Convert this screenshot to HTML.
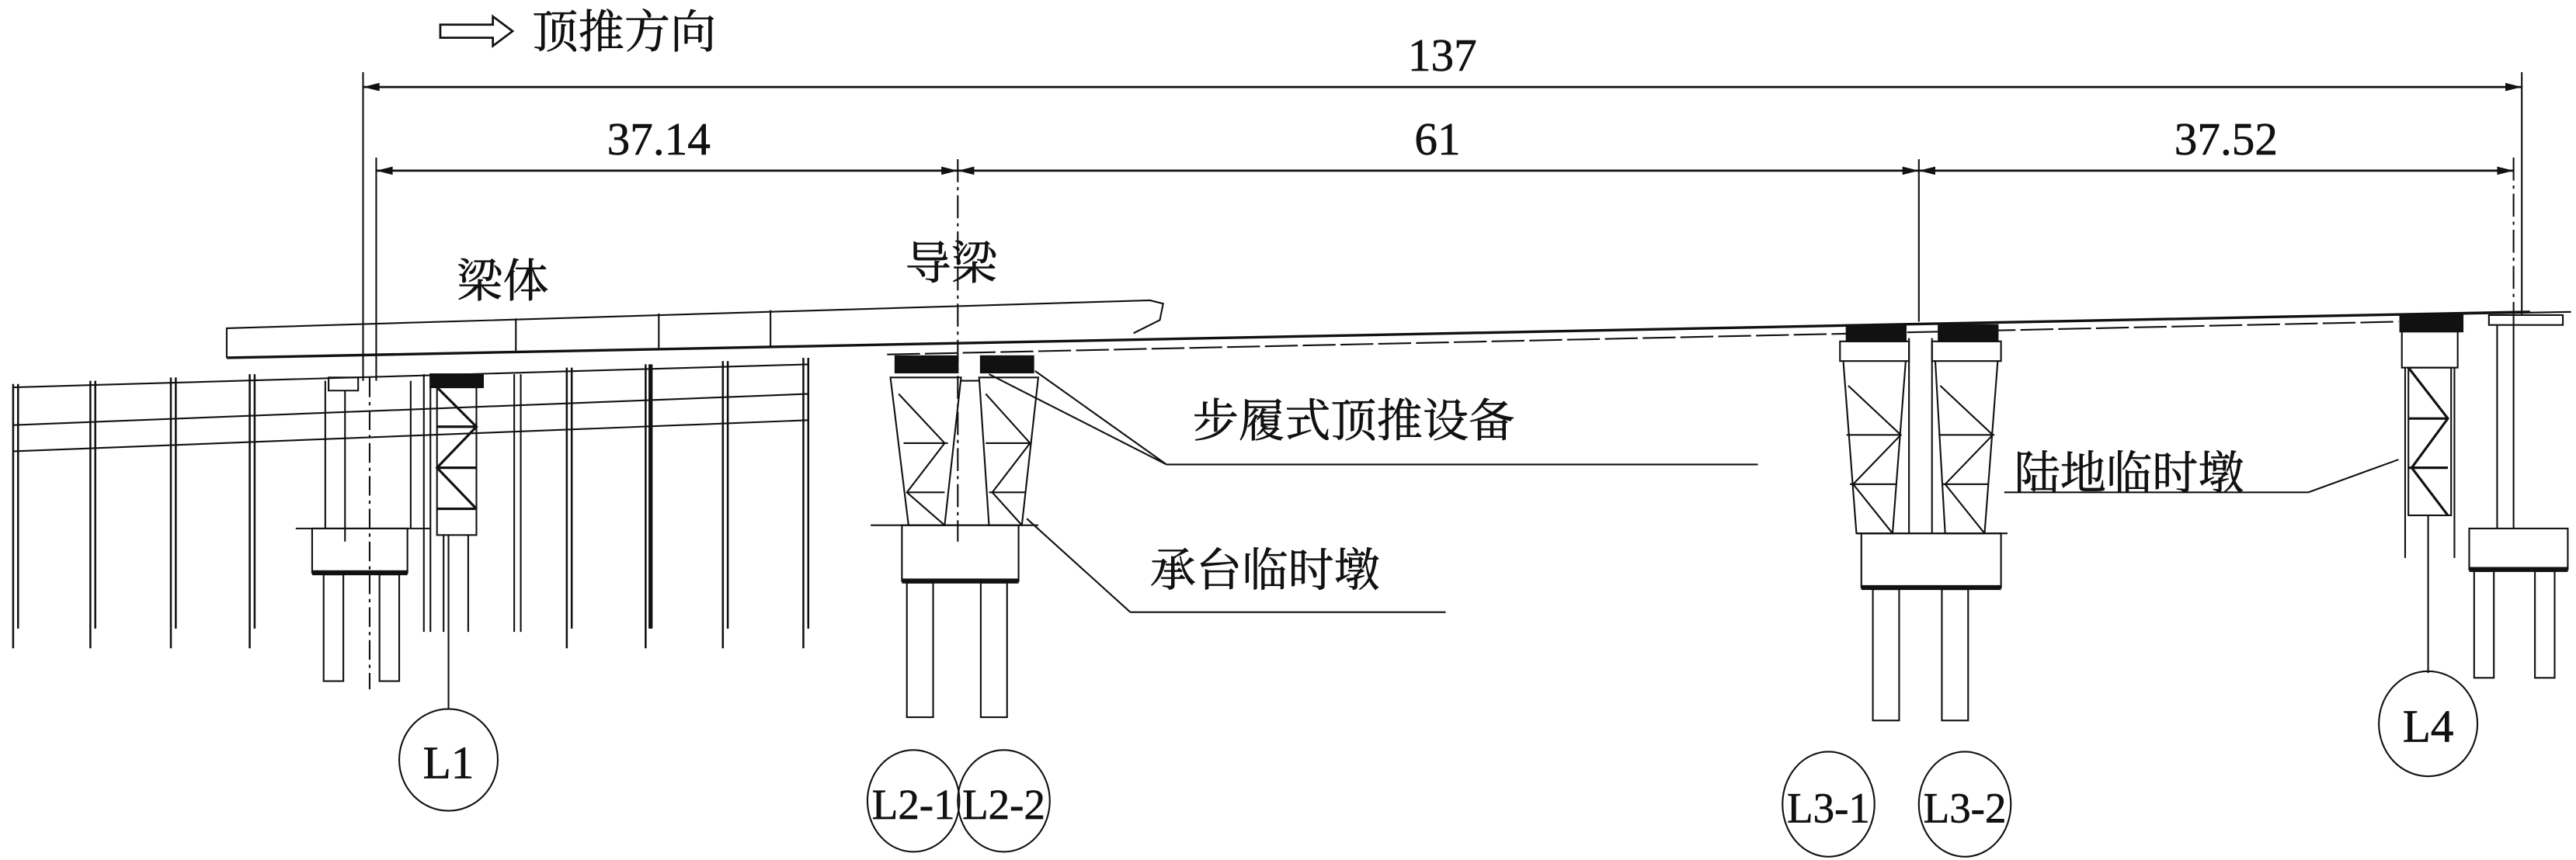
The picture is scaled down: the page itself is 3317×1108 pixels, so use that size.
<!DOCTYPE html>
<html><head><meta charset="utf-8"><style>
html,body{margin:0;padding:0;background:#fff;}
svg{display:block;}
text{font-family:"Liberation Serif","Noto Serif CJK SC",serif;fill:#111;}
</style></head><body>
<svg width="3317" height="1108" viewBox="0 0 1568 524" preserveAspectRatio="none" xmlns="http://www.w3.org/2000/svg">
<g stroke="#111" fill="none" stroke-width="1">
<path d="M268 15 H300 V10 L312 19 L300 28 V23 H268 Z" stroke-width="1.3"/>
<line x1="221" y1="53" x2="1535" y2="53" stroke-width="1.3"/>
<line x1="221" y1="44" x2="221" y2="232"/>
<line x1="1535" y1="44" x2="1535" y2="192"/>
<line x1="229" y1="104" x2="1530" y2="104" stroke-width="1.3"/>
<line x1="229" y1="96" x2="229" y2="232"/>
<line x1="583" y1="97" x2="583" y2="330" stroke-dasharray="14,3,2,3"/>
<line x1="1168" y1="97" x2="1168" y2="196"/>
<line x1="1530" y1="96" x2="1530" y2="200" stroke-dasharray="14,3,2,3"/>
<g fill="#111" stroke="none">
<path d="M221 53 l10 -2.5 v5z"/><path d="M1535 53 l-10 -2.5 v5z"/>
<path d="M229 104 l10 -2.5 v5z"/><path d="M583 104 l-10 -2.5 v5z"/><path d="M583 104 l10 -2.5 v5z"/>
<path d="M1168 104 l-10 -2.5 v5z"/><path d="M1168 104 l10 -2.5 v5z"/><path d="M1530 104 l-10 -2.5 v5z"/>
</g>
<path d="M138 218 V200 L700 183 L708 185 L706 195 L690 203"/>
<line x1="138" y1="218" x2="1540" y2="190" stroke-width="1.6"/>
<line x1="540" y1="216" x2="1460" y2="196" stroke-dasharray="20,3"/>
<line x1="314" y1="194" x2="314" y2="214"/><line x1="401" y1="191" x2="401" y2="212"/><line x1="469" y1="189" x2="469" y2="211"/>
<line x1="1460" y1="192" x2="1565" y2="190"/>
<g stroke-width="1.2">
<line x1="8" y1="234" x2="8" y2="395"/><line x1="11" y1="234" x2="11" y2="383"/>
<line x1="55" y1="232" x2="55" y2="395"/><line x1="58" y1="232" x2="58" y2="383"/>
<line x1="104" y1="230" x2="104" y2="395"/><line x1="107" y1="230" x2="107" y2="383"/>
<line x1="152" y1="228" x2="152" y2="395"/><line x1="155" y1="228" x2="155" y2="383"/>
<line x1="345" y1="224" x2="345" y2="395"/><line x1="348" y1="224" x2="348" y2="383"/>
<line x1="393" y1="222" x2="393" y2="395"/><line x1="396" y1="222" x2="396" y2="383" stroke-width="2.5"/>
<line x1="440" y1="220" x2="440" y2="395"/><line x1="443" y1="220" x2="443" y2="383"/>
<line x1="489" y1="218" x2="489" y2="395"/><line x1="492" y1="218" x2="492" y2="383"/>
</g>
<line x1="8" y1="236" x2="492" y2="222"/>
<line x1="8" y1="259" x2="492" y2="240"/>
<line x1="8" y1="275" x2="492" y2="256"/>
<path d="M200 230 H218 V238 H200Z M210 238 V330"/>
<line x1="198" y1="232" x2="198" y2="322"/><line x1="250" y1="232" x2="250" y2="322"/>
<line x1="225" y1="230" x2="225" y2="420" stroke-dasharray="12,3,2,3"/>
<line x1="180" y1="322" x2="262" y2="322"/>
<rect x="190" y="322" width="58" height="27"/>
<line x1="190" y1="349" x2="248" y2="349" stroke-width="3"/>
<rect x="197" y="350" width="12" height="65"/><rect x="231" y="350" width="12" height="65"/>
<line x1="258" y1="228" x2="258" y2="385"/><line x1="262" y1="228" x2="262" y2="385"/>
<line x1="313" y1="228" x2="313" y2="385"/><line x1="317" y1="228" x2="317" y2="385"/>
<rect x="262" y="228" width="32" height="8" fill="#111"/>
<rect x="266" y="236" width="24" height="90"/>
<path d="M266 236 L290 260 L266 285 L290 310 M266 260 H290 M266 285 H290 M266 310 H290" stroke-width="1.5"/>
<line x1="270" y1="326" x2="270" y2="385"/><line x1="285" y1="326" x2="285" y2="385"/>
<line x1="273" y1="326" x2="273" y2="432"/>
<ellipse cx="273" cy="463" rx="30" ry="31"/>
<rect x="545" y="217" width="38" height="10" fill="#111"/>
<rect x="597" y="217" width="32" height="10" fill="#111"/>
<path d="M542 230 H585 L575 320 H553 Z"/>
<path d="M596 230 H632 L622 320 H602 Z"/>
<path d="M547 240 L575 270 L552 300 L575 320 M550 270 H577 M552 300 H575"/>
<path d="M600 240 L627 270 L604 300 L622 320 M600 270 H627 M602 300 H624"/>
<line x1="585" y1="232" x2="596" y2="232"/>
<line x1="530" y1="320" x2="632" y2="320"/>
<rect x="549" y="320" width="71" height="34"/>
<line x1="549" y1="354" x2="620" y2="354" stroke-width="3"/>
<rect x="552" y="355" width="16" height="82"/><rect x="597" y="355" width="16" height="82"/>
<ellipse cx="556" cy="488" rx="28" ry="31"/><ellipse cx="611" cy="488" rx="28" ry="31"/>
<rect x="1124" y="198" width="36" height="10" fill="#111"/>
<rect x="1180" y="198" width="36" height="10" fill="#111"/>
<path d="M1120 208 H1162 V220 H1120Z M1176 208 H1218 V220 H1176Z"/>
<path d="M1122 220 L1130 325 H1152 L1160 220 M1178 220 L1184 325 H1208 L1216 220"/>
<path d="M1125 235 L1157 265 L1128 295 L1152 325 M1124 265 H1157 M1126 295 H1154"/>
<path d="M1181 235 L1213 265 L1184 295 L1208 325 M1180 265 H1214 M1182 295 H1210"/>
<line x1="1162" y1="206" x2="1162" y2="325"/><line x1="1176" y1="206" x2="1176" y2="325"/>
<line x1="1130" y1="325" x2="1222" y2="325"/>
<rect x="1133" y="325" width="85" height="33"/>
<line x1="1133" y1="358" x2="1218" y2="358" stroke-width="3"/>
<rect x="1140" y="359" width="16" height="80"/><rect x="1182" y="359" width="16" height="80"/>
<ellipse cx="1113" cy="490" rx="28" ry="32"/><ellipse cx="1196" cy="490" rx="28" ry="32"/>
<rect x="1461" y="192" width="38" height="10" fill="#111"/>
<rect x="1462" y="202" width="34" height="22"/>
<rect x="1466" y="224" width="26" height="90"/>
<path d="M1466 224 L1490 255 L1468 285 L1490 314 M1466 255 H1490 M1466 285 H1490" stroke-width="1.5"/>
<line x1="1464" y1="224" x2="1464" y2="340"/><line x1="1494" y1="224" x2="1494" y2="340"/>
<line x1="1478" y1="314" x2="1478" y2="410"/>
<ellipse cx="1478" cy="441" rx="30" ry="32"/>
<path d="M1515 192 H1560 V198 H1515Z"/>
<line x1="1520" y1="198" x2="1520" y2="322"/><line x1="1530" y1="198" x2="1530" y2="322"/>
<rect x="1503" y="322" width="60" height="25"/>
<line x1="1503" y1="347" x2="1563" y2="347" stroke-width="3"/>
<rect x="1506" y="348" width="12" height="65"/><rect x="1543" y="348" width="12" height="65"/>
<path d="M710 283 H1070"/><path d="M710 283 L630 226 M710 283 L602 228"/>
<path d="M688 373 H880"/><path d="M688 373 L625 316"/>
<path d="M1220 300 H1405"/><path d="M1405 300 L1460 280"/>
</g>
<g stroke="#111" stroke-width="0.3">
<text x="324" y="29" font-size="28">顶推方向</text>
<text x="878" y="43" font-size="28" text-anchor="middle">137</text>
<text x="401" y="94" font-size="28" text-anchor="middle">37.14</text>
<text x="875" y="94" font-size="28" text-anchor="middle">61</text>
<text x="1355" y="94" font-size="28" text-anchor="middle">37.52</text>
<text x="278" y="181" font-size="28">梁体</text>
<text x="551" y="170" font-size="28">导梁</text>
<text x="726" y="266" font-size="28">步履式顶推设备</text>
<text x="700" y="357" font-size="28">承台临时墩</text>
<text x="1226" y="298" font-size="28">陆地临时墩</text>
<text x="273" y="474" font-size="28" text-anchor="middle">L1</text>
<text x="556" y="499" font-size="26" text-anchor="middle">L2-1</text>
<text x="611" y="499" font-size="26" text-anchor="middle">L2-2</text>
<text x="1113" y="501" font-size="26" text-anchor="middle">L3-1</text>
<text x="1196" y="501" font-size="26" text-anchor="middle">L3-2</text>
<text x="1478" y="452" font-size="28" text-anchor="middle">L4</text>
</g>
</svg>
</body></html>
